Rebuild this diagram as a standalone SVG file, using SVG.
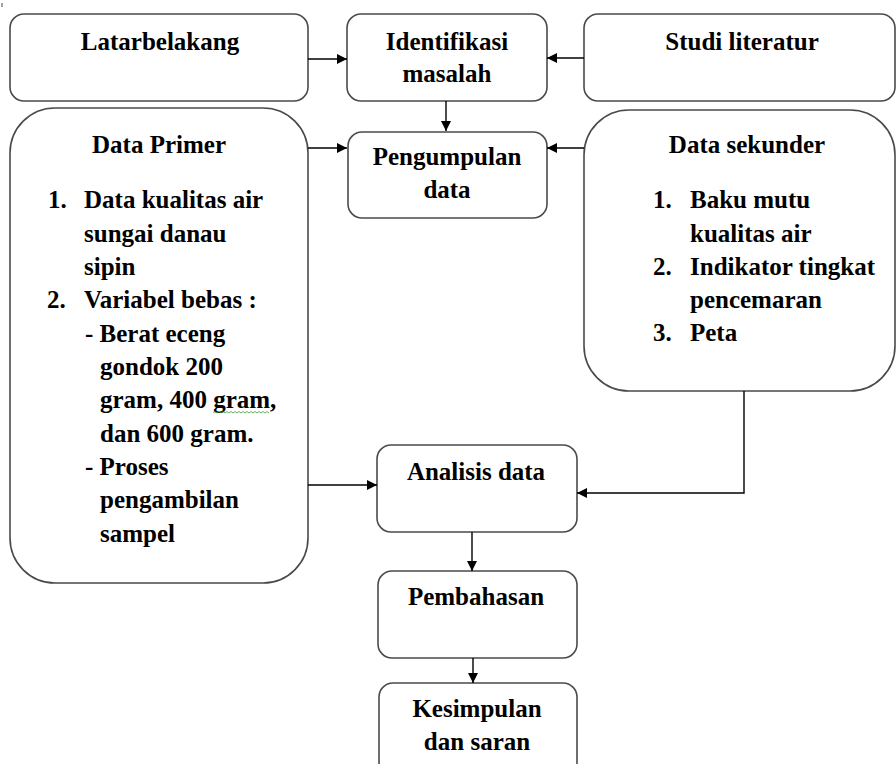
<svg xmlns="http://www.w3.org/2000/svg" width="896" height="764" viewBox="0 0 896 764">
<style>
.box{fill:#fff;stroke:#4a4a4a;stroke-width:1.6}
.t{font-family:"Liberation Serif","Times New Roman",serif;font-weight:bold;font-size:25px;fill:#000}
.c{text-anchor:middle}
.ln{fill:none;stroke:#000;stroke-width:1.4}
</style>
<defs>
<marker id="ah" viewBox="0 0 10 10" refX="10" refY="5" markerWidth="11" markerHeight="10" markerUnits="userSpaceOnUse" orient="auto">
<path d="M0,0 L10,5 L0,10 Z" fill="#000"/>
</marker>
</defs>
<rect width="896" height="764" fill="#fff"/>
<line x1="2" y1="3" x2="2" y2="7" stroke="#444" stroke-width="1"/>

<g id="latarbelakang">
<rect class="box" x="10" y="14" width="298" height="87" rx="14"/>
<text class="t c" x="160" y="50">Latarbelakang</text>
</g>
<g id="identifikasi">
<rect class="box" x="347" y="14" width="200" height="87" rx="14"/>
<text class="t c" x="447" y="50">Identifikasi</text>
<text class="t c" x="447" y="82">masalah</text>
</g>
<g id="studi">
<rect class="box" x="584" y="14" width="311" height="87" rx="14"/>
<text class="t c" x="742" y="50">Studi literatur</text>
</g>
<g id="data-primer">
<rect class="box" x="10" y="108" width="298" height="475" rx="45"/>
<text class="t c" x="159" y="153">Data Primer</text>
<text class="t" x="48" y="208">1.</text>
<text class="t" x="84" y="208">Data kualitas air</text>
<text class="t" x="84" y="242">sungai danau</text>
<text class="t" x="84" y="275">sipin</text>
<text class="t" x="47" y="308">2.</text>
<text class="t" x="84" y="308">Variabel bebas :</text>
<text class="t" x="85" y="342">- Berat eceng</text>
<text class="t" x="100" y="375">gondok 200</text>
<text class="t" x="100" y="408">gram, 400 gram,</text>
<text class="t" x="100" y="442">dan 600 gram.</text>
<text class="t" x="85" y="475">- Proses</text>
<text class="t" x="100" y="508">pengambilan</text>
<text class="t" x="100" y="542">sampel</text>
<path d="M213,413 l2,-1.5 l2,1.5 l2,-1.5 l2,1.5 l2,-1.5 l2,1.5 l2,-1.5 l2,1.5 l2,-1.5 l2,1.5 l2,-1.5 l2,1.5 l2,-1.5 l2,1.5 l2,-1.5 l2,1.5 l2,-1.5 l2,1.5 l2,-1.5 l2,1.5 l2,-1.5 l2,1.5 l2,-1.5 l2,1.5 l2,-1.5 l2,1.5 l2,-1.5 l2,1.5" fill="none" stroke="#3a9a3a" stroke-width="0.8"/>
</g>
<g id="pengumpulan">
<rect class="box" x="348" y="132" width="199" height="86" rx="14"/>
<text class="t c" x="447" y="165">Pengumpulan</text>
<text class="t c" x="447" y="198">data</text>
</g>
<g id="data-sekunder">
<rect class="box" x="584" y="110" width="311" height="281" rx="45"/>
<text class="t c" x="747" y="153">Data sekunder</text>
<text class="t" x="653" y="208">1.</text>
<text class="t" x="690" y="208">Baku mutu</text>
<text class="t" x="690" y="242">kualitas air</text>
<text class="t" x="653" y="275">2.</text>
<text class="t" x="690" y="275">Indikator tingkat</text>
<text class="t" x="690" y="308">pencemaran</text>
<text class="t" x="653" y="341">3.</text>
<text class="t" x="690" y="341">Peta</text>
</g>
<g id="analisis">
<rect class="box" x="377" y="445" width="200" height="87" rx="14"/>
<text class="t c" x="476" y="480">Analisis data</text>
</g>
<g id="pembahasan">
<rect class="box" x="378" y="571" width="199" height="87" rx="14"/>
<text class="t c" x="476" y="605">Pembahasan</text>
</g>
<g id="kesimpulan">
<rect class="box" x="379" y="683" width="198" height="100" rx="14"/>
<text class="t c" x="477" y="717">Kesimpulan</text>
<text class="t c" x="477" y="750">dan saran</text>
</g>

<g id="connectors">
<line class="ln" x1="308" y1="59" x2="347" y2="59" marker-end="url(#ah)"/>
<line class="ln" x1="584" y1="58" x2="547" y2="58" marker-end="url(#ah)"/>
<line class="ln" x1="446" y1="101" x2="446" y2="131" marker-end="url(#ah)"/>
<line class="ln" x1="308" y1="148" x2="347" y2="148" marker-end="url(#ah)"/>
<line class="ln" x1="584" y1="148" x2="547" y2="148" marker-end="url(#ah)"/>
<line class="ln" x1="308" y1="485" x2="377" y2="485" marker-end="url(#ah)"/>
<polyline class="ln" points="744,391 744,493 577,493" marker-end="url(#ah)"/>
<line class="ln" x1="472" y1="532" x2="472" y2="571" marker-end="url(#ah)"/>
<line class="ln" x1="473" y1="658" x2="473" y2="683" marker-end="url(#ah)"/>
</g>
</svg>
